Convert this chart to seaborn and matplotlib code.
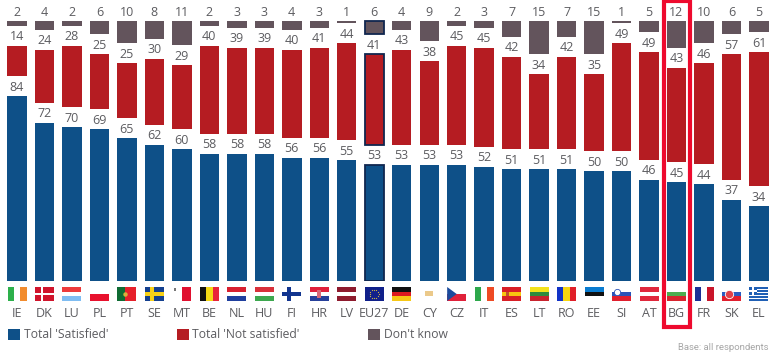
import matplotlib
matplotlib.use("Agg")
import matplotlib.pyplot as plt
from matplotlib.patches import Rectangle, Patch, Polygon
import seaborn as sns
import numpy as np

countries = ["IE","DK","LU","PL","PT","SE","MT","BE","NL","HU","FI","HR","LV","EU27",
             "DE","CY","CZ","IT","ES","LT","RO","EE","SI","AT","BG","FR","SK","EL"]
satisfied = [84,72,70,69,65,62,60,58,58,58,56,56,55,53,53,53,53,52,51,51,51,50,50,46,45,44,37,34]
not_satisfied = [14,24,28,25,25,30,29,40,39,39,40,41,44,41,43,38,45,45,42,34,42,35,49,49,43,46,57,61]
dont_know = [2,4,2,6,10,8,11,2,3,3,4,3,1,6,4,9,2,3,7,15,7,15,1,5,12,10,6,5]
legend_labels = ["Total 'Satisfied'", "Total 'Not satisfied'", "Don't know"]
base_note = "Base: all respondents"

BLUE, RED, GREY = "#0E5088", "#B51C22", "#63545C"
TXT = "#5C5C60"
W, H = 780, 362
PX = 2.2            # pixels per percentage point
BASE_Y = 281.2      # pixel row of the zero line
GAP = 20 / PX       # white gap between stacked segments
STEP = 27.48
X0 = 17.0
FONT = ["Open Sans", "DejaVu Sans"]

sns.set_theme(style="white")
plt.rcParams["font.family"] = FONT

fig = plt.figure(figsize=(W / 100, H / 100), dpi=100, facecolor="white")
left_px = X0 - 0.5 * STEP
right_px = X0 + 27.5 * STEP
top_px = 1.0
ax = fig.add_axes([left_px / W, 1 - BASE_Y / H, (right_px - left_px) / W, (BASE_Y - top_px) / H])
ax.patch.set_alpha(0)

sat = np.array(satisfied, float)
nots = np.array(not_satisfied, float)
dk = np.array(dont_know, float)
red_bottom = sat + GAP
grey_bottom = sat + nots + 2 * GAP

for vals, bottom, col in [(sat, None, BLUE), (nots, red_bottom, RED), (dk, grey_bottom, GREY)]:
    kw = {} if bottom is None else {"bottom": bottom}
    sns.barplot(x=countries, y=vals, color=col, saturation=1, width=19.4 / STEP,
                errorbar=None, ax=ax, linewidth=0, **kw)

ax.set_xlim(-0.5, 27.5)
ax.set_ylim(0, (BASE_Y - top_px) / PX)
ax.set_yticks([])
sns.despine(ax=ax, left=True, bottom=True)
ax.tick_params(axis="x", length=0, pad=18.3, labelsize=9, labelcolor=TXT)
ax.set_xlabel("")
ax.set_ylabel("")

# EU27 outline
for cont in ax.containers:
    b = cont[13]
    b.set_edgecolor("#10264F")
    b.set_linewidth(1.3)

# value labels
pt = 72 / 100
for i in range(len(countries)):
    for top, val, off in [(sat[i], satisfied[i], 9), (red_bottom[i] + nots[i], not_satisfied[i], 9),
                          (grey_bottom[i] + dk[i], dont_know[i], 8.5)]:
        ax.annotate(str(val), xy=(i, top), xytext=(0, off * pt), textcoords="offset points",
                    ha="center", va="center", fontsize=9, color=TXT, annotation_clip=False)

# highlight frame around BG
i_bg = countries.index("BG")
half = 13 / STEP
ax.add_patch(Rectangle((i_bg - half, (BASE_Y - 327) / PX), 2 * half, (327 - 1.0) / PX,
                       fill=False, edgecolor="#EE0A2E", linewidth=3.0, clip_on=False, zorder=6))

# flags
fl = fig.add_axes([left_px / W, 1 - 301 / H, (right_px - left_px) / W, 14 / H])
fl.set_xlim(-0.5, 27.5)
fl.set_ylim(1, 0)
fl.axis("off")
FW = 19 / STEP

def box(i, x0, x1, y0, y1, c):
    fl.add_patch(Rectangle((i - FW / 2 + x0 * FW, y0), (x1 - x0) * FW, y1 - y0, color=c, lw=0))

def hstr(i, *cols):
    n = len(cols)
    for k, c in enumerate(cols):
        box(i, 0, 1, k / n, (k + 1) / n, c)

def vstr(i, *cols):
    n = len(cols)
    for k, c in enumerate(cols):
        box(i, k / n, (k + 1) / n, 0, 1, c)

def cross(i, bg, fg, cx=0.38, tx=0.17, ty=0.26):
    box(i, 0, 1, 0, 1, bg)
    box(i, cx - tx / 2, cx + tx / 2, 0, 1, fg)
    box(i, 0, 1, 0.5 - ty / 2, 0.5 + ty / 2, fg)

W_ = "#FFFFFF"
idx = {c: k for k, c in enumerate(countries)}
vstr(idx["IE"], "#2DB04B", W_, "#F28C2E")
cross(idx["DK"], "#D0142C", W_, 0.36, 0.12, 0.16)
hstr(idx["LU"], "#EE3B3B", W_, "#7FBDF2")
hstr(idx["PL"], W_, "#E8112D")
box(idx["PT"], 0, 1, 0, 1, "#E6202A"); box(idx["PT"], 0, 0.4, 0, 1, "#0F6B33")
fl.plot([idx["PT"] - FW / 2 + 0.4 * FW], [0.5], "o", ms=3.2, color="#D8B23A", mew=0)
cross(idx["SE"], "#14408F", "#F7D117", 0.36, 0.2, 0.22)
box(idx["MT"], 0.5, 1, 0, 1, "#E0102F"); box(idx["MT"], 0.1, 0.18, 0.1, 0.3, "#777777")
vstr(idx["BE"], "#111111", "#F5D915", "#E8243A")
hstr(idx["NL"], "#D8202F", W_, "#1F3F9E")
hstr(idx["HU"], "#D8303A", W_, "#3DA84F")
cross(idx["FI"], W_, "#12358F", 0.36, 0.2, 0.26)
hstr(idx["HR"], "#E0203A", W_, "#27409A")
box(idx["HR"], 0.4, 0.6, 0.2, 0.75, "#D86A78")
hstr(idx["LV"], "#8E1B2E", W_, "#8E1B2E")
box(idx["EU27"], 0, 1, 0, 1, "#10208A")
for a in np.linspace(0, 2 * np.pi, 12, endpoint=False):
    fl.plot([idx["EU27"] + 0.16 * np.cos(a)], [0.5 + 0.3 * np.sin(a)], "o", ms=0.9, color="#C9B24A", mew=0)
hstr(idx["DE"], "#111111", "#DD1A20", "#F7C815")
box(idx["CY"], 0.3, 0.7, 0.3, 0.65, "#EBC98A")
hstr(idx["CZ"], W_, "#E0213A")
fl.add_patch(Polygon([(idx["CZ"] - FW / 2, 0), (idx["CZ"] - FW / 2 + 0.5 * FW, 0.5), (idx["CZ"] - FW / 2, 1)],
                     color="#1B4A9C", lw=0))
vstr(idx["IT"], "#2DA84B", W_, "#EE4A24")
hstr(idx["ES"], "#D81F26", "#F8C50F", "#D81F26")
box(idx["ES"], 0.22, 0.36, 0.36, 0.64, "#C0522A")
hstr(idx["LT"], "#F2E21B", "#2E8B3D", "#C8232E")
vstr(idx["RO"], "#1233C7", "#F7D60F", "#E01F28")
hstr(idx["EE"], "#0A7CD0", "#111111", W_)
hstr(idx["SI"], W_, "#2A53B8", "#E01F2E")
fl.plot([idx["SI"] - FW * 0.22], [0.33], "o", ms=4.5, color=W_, mec="#2A53B8", mew=0.6)
hstr(idx["AT"], "#E0283C", W_, "#E0283C")
hstr(idx["BG"], W_, "#4BAE4F", "#D8242E")
vstr(idx["FR"], "#1B2F96", W_, "#C9152A")
hstr(idx["SK"], W_, "#2A5CC0", "#E01F2E")
fl.plot([idx["SK"] - FW * 0.15], [0.48], "o", ms=6, color="#E0404A", mec=W_, mew=0.6)
for k in range(9):
    box(idx["EL"], 0, 1, k / 9, (k + 1) / 9, "#2060B5" if k % 2 == 0 else W_)
box(idx["EL"], 0, 0.38, 0, 5 / 9, "#2060B5")
box(idx["EL"], 0.15, 0.23, 0, 5 / 9, W_)
box(idx["EL"], 0, 0.38, 2 / 9, 3 / 9, W_)

# legend
handles = [Patch(facecolor=c, edgecolor="none") for c in (BLUE, RED, GREY)]
fs = 8.7
em = fs / pt
leg = fig.legend(handles, legend_labels, ncol=3, frameon=False, fontsize=fs,
                 loc="center left", bbox_to_anchor=(8 / W, 1 - 335 / H), borderaxespad=0, borderpad=0,
                 handlelength=12 / em, handleheight=12 / em, handletextpad=4 / em, columnspacing=68 / em,
                 labelcolor=TXT)

fig.text(768 / W, 1 - 348 / H, base_note, ha="right", va="center", fontsize=6.8, color="#A6A6A6",
         family=["Liberation Sans Narrow", "Roboto", "DejaVu Sans"])

fig.savefig("out.png", dpi=100, facecolor="white")
